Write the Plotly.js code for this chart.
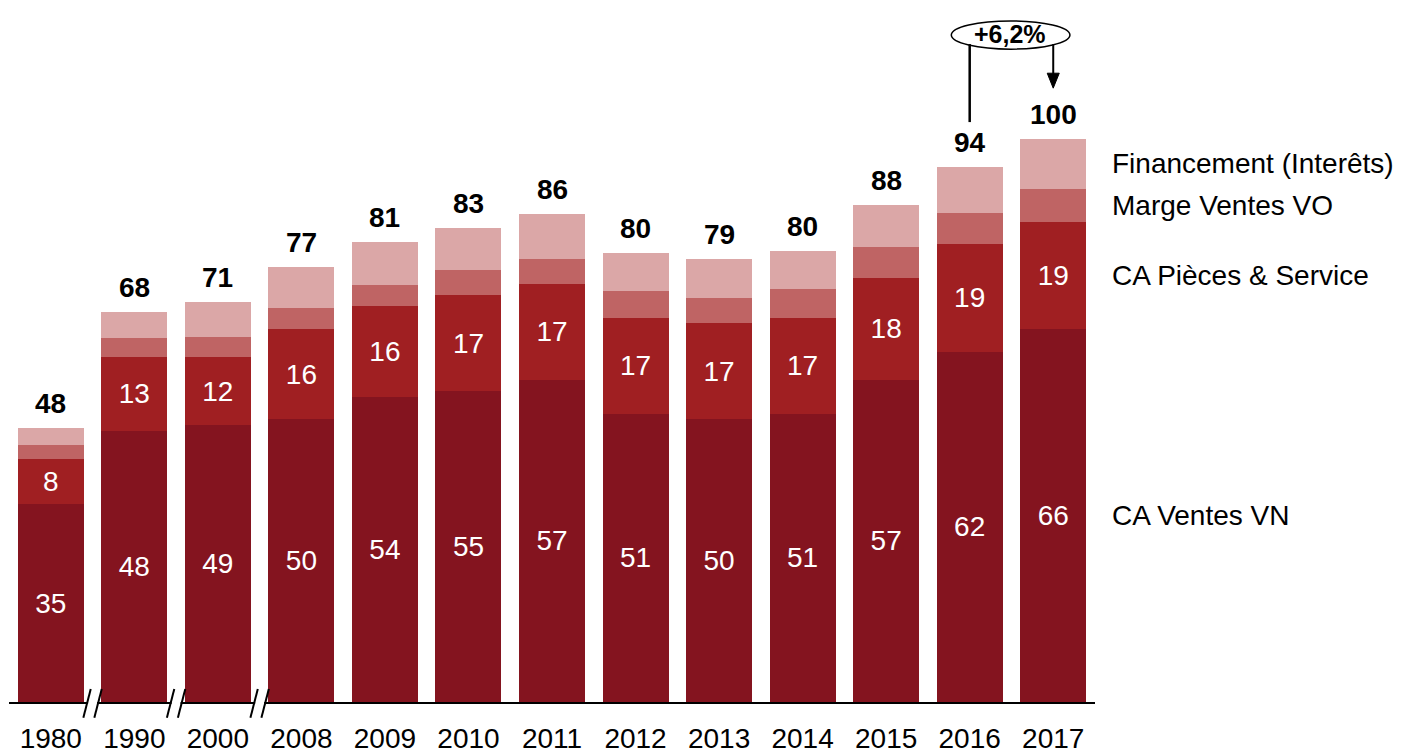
<!DOCTYPE html>
<html>
<head>
<meta charset="utf-8">
<script src="https://cdn.plot.ly/plotly-3.0.1.min.js"></script>
<style>html,body{margin:0;padding:0;background:#fff;}.chart{width:1408px;height:751px;}</style>
</head>
<body>
<div id="host"></div>
<script>
var years = ['1980','1990','2000','2008','2009','2010','2011','2012','2013','2014','2015','2016','2017'];
var vn = [35,48,49,50,54,55,57,51,50,51,57,62,66];
var pieces = [8,13,12,16,16,17,17,17,17,17,18,19,19];
var vo = [2.5,3.4,3.5,3.7,3.7,4.4,4.4,4.8,4.4,5.1,5.5,5.5,5.8];
var fin = [3.0,4.6,6.2,7.3,7.6,7.4,8.0,6.7,6.9,6.7,7.4,8.1,8.8];
var totals = [48,68,71,77,81,83,86,80,79,80,88,94,100];
var seriesNames = ['CA Ventes VN','CA Pièces & Service','Marge Ventes VO','Financement (Interêts)'];
var growthLabel = '+6,2%';

var FONT = 'Liberation Sans, Arial, sans-serif';
var colors = ['#84141F','#A01F22','#BF6464','#DBA7A7'];
var idx = years.map(function(_, i){ return i; });

function barTrace(vals, i, withText){
  var t = {type:'bar', x:idx, y:vals, name:seriesNames[i], marker:{color:colors[i], line:{width:0}}, hoverinfo:'skip'};
  if(withText){
    t.text = vals.map(String); t.textposition = 'inside'; t.insidetextanchor = 'middle';
    t.textangle = 0; t.constraintext = 'none';
    t.insidetextfont = {family:FONT, size:28, color:'#ffffff'};
  } else { t.textposition = 'none'; }
  return t;
}

function build(level){
  var data = [barTrace(vn,0,true), barTrace(pieces,1,true), barTrace(vo,2,false), barTrace(fin,3,false)];
  var annotations = [];
  for (var i=0;i<years.length;i++){
    var top = vn[i]+pieces[i]+vo[i]+fin[i];
    annotations.push({x:idx[i], y:top, xref:'x', yref:'y', text:'<b>'+totals[i]+'</b>', showarrow:false,
      yanchor:'bottom', yshift:7, font:{family:FONT, size:28, color:'#000'}});
  }
  var L = years.length-1;
  var mids = [vn[L]/2, vn[L]+pieces[L]/2, vn[L]+pieces[L]+vo[L]/2, vn[L]+pieces[L]+vo[L]+fin[L]/2];
  for (var k=0;k<4;k++){
    annotations.push({x:1.0138, xref:'paper', y:mids[k], yref:'y', xanchor:'left',
      text:seriesNames[k], showarrow:false, font:{family:FONT, size:28, color:'#000'}});
  }
  annotations.push({x:11.485, y:118.1, xref:'x', yref:'y', text:'<b>'+growthLabel+'</b>', showarrow:false,
    font:{family:FONT, size:25, color:'#000'}});
  var shapes = [];
  if (level <= 1) {
    shapes.push({type:'circle', xref:'x', yref:'y', x0:10.78, x1:12.2, y0:115.5, y1:120.5, line:{color:'#000', width:1.5}});
    shapes.push({type:'line', xref:'x', yref:'y', x0:11, x1:11, y0:116.4, y1:102.6, line:{color:'#000', width:2.5}});
    shapes.push({type:'line', xref:'x', yref:'y', x0:12, x1:12, y0:116.4, y1:110.8, line:{color:'#000', width:2}});
    shapes.push({type:'path', xref:'x', yref:'y', path:'M11.928,111.25 L12.072,111.25 L12,108.6 Z', fillcolor:'#000', line:{color:'#000', width:1}});
  }
  if (level === 0) {
    var plotW = 1086, plotH = 702, ncat = years.length;
    for (var b=1;b<=3;b++){
      var cx = b/ncat, off = 5.5/plotW, dx = 3.7/plotW, yTop = 13/plotH, yBot = -15.7/plotH;
      var lx = cx-off, rx = cx+off;
      shapes.push({type:'rect', xref:'paper', yref:'paper', x0:lx+1/plotW, x1:rx-1/plotW, y0:-3/plotH, y1:3/plotH, fillcolor:'#fff', line:{width:0}});
      shapes.push({type:'line', xref:'paper', yref:'paper', x0:lx-dx, x1:lx+dx, y0:yBot, y1:yTop, line:{color:'#000', width:2}});
      shapes.push({type:'line', xref:'paper', yref:'paper', x0:rx-dx, x1:rx+dx, y0:yBot, y1:yTop, line:{color:'#000', width:2}});
    }
  }
  var layout = {
    width:1408, height:751, margin:{l:9, r:313, t:0, b:49},
    barmode:'stack', bargap:0.21, showlegend:false, hovermode:false,
    font:{family:FONT, color:'#000'},
    xaxis:{type:'linear', range:[-0.5, years.length-0.5], tickmode:'array', tickvals:idx, ticktext:years,
      showline:true, linecolor:'#000', linewidth:2, ticks:'outside', ticklen:10, tickcolor:'rgba(0,0,0,0)',
      showgrid:false, zeroline:false, tickfont:{family:FONT, size:28, color:'#000'}, fixedrange:true},
    yaxis:{visible:false, range:[0,124.2], showgrid:false, zeroline:false, fixedrange:true},
    annotations:annotations, shapes:shapes
  };
  return {data:data, layout:layout};
}

var host = document.getElementById('host');
function attempt(level){
  if (level > 2) return;
  host.innerHTML = '';
  var el = document.createElement('div'); el.className = 'chart'; host.appendChild(el);
  var f = build(level);
  try {
    var p = Plotly.newPlot(el, f.data, f.layout, {staticPlot:true});
    if (p && p.catch) p.catch(function(){ attempt(level+1); });
  } catch(e) { attempt(level+1); }
}
attempt(0);
</script>
</body>
</html>
